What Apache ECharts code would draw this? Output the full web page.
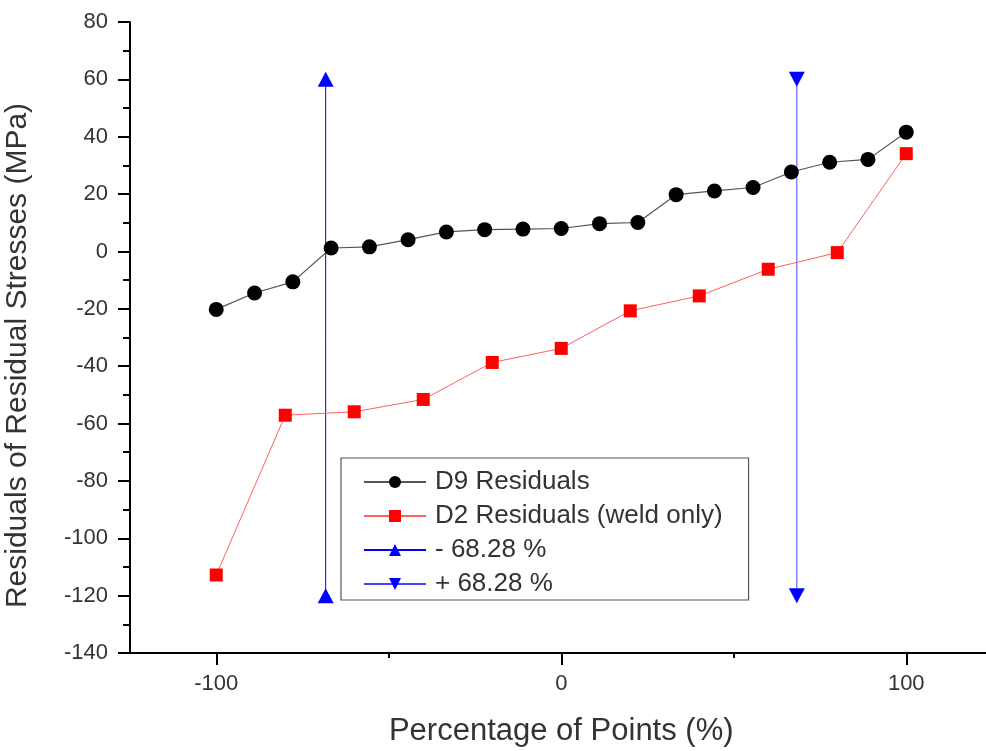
<!DOCTYPE html>
<html>
<head>
<meta charset="utf-8">
<script src="https://cdn.jsdelivr.net/npm/echarts@6/dist/echarts.min.js"></script>
<style>
html,body{margin:0;padding:0;background:#fff;}
#chart{width:986px;height:751px;}
</style>
</head>
<body>
<div id="chart"></div>
<script>
// D9 residuals
const d9X = [-100, -88.9, -77.8, -66.7, -55.6, -44.4, -33.3, -22.2, -11.1, 0, 11.1, 22.2, 33.3, 44.4, 55.6, 66.7, 77.8, 88.9, 100];
const d9Y = [-20.2, -14.5, -10.6, 1.2, 1.6, 4.1, 6.8, 7.6, 7.8, 8.0, 9.7, 10.1, 19.8, 21.1, 22.3, 27.7, 31.1, 32.1, 41.6];
// D2 residuals (weld only)
const d2X = [-100, -80, -60, -40, -20, 0, 20, 40, 60, 80, 100];
const d2Y = [-112.8, -57.1, -55.9, -51.6, -38.7, -33.8, -20.7, -15.5, -6.2, -0.4, 34.1];
// ±68.28 % bounds
const minusX = [-68.28, -68.28];
const minusY = [-120, 60];
const plusX = [68.28, 68.28];
const plusY = [60, -120];
// tick labels
const xMajorTicks = [-100, 0, 100];
const xMinorTicks = [-50, 50];

const seriesNames = ['D9 Residuals', 'D2 Residuals (weld only)', '- 68.28 %', '+ 68.28 %'];
const zip = (xs, ys) => xs.map((x, i) => [x, ys[i]]);

const font = 'Arial, "Liberation Sans", sans-serif';
const chart = echarts.init(document.getElementById('chart'));
chart.setOption({
  animation: false,
  backgroundColor: '#fff',
  grid: { left: 130, top: 22, width: 862.5, height: 631, containLabel: false, outerBoundsMode: 'none' },
  xAxis: [{
    type: 'value', min: -125, max: 125, position: 'bottom',
    name: 'Percentage of Points (%)', nameLocation: 'middle', nameGap: 63,
    nameTextStyle: { fontFamily: font, fontSize: 31, color: '#333' },
    axisLine: { show: true, onZero: false, lineStyle: { color: '#000', width: 2 } },
    axisTick: { show: true, inside: false, length: 12, customValues: xMajorTicks, lineStyle: { color: '#000', width: 2 } },
    axisLabel: { show: true, customValues: xMajorTicks, margin: 20, fontFamily: font, fontSize: 22, color: '#333' },
    splitLine: { show: false }
  }, {
    type: 'value', min: -125, max: 125, position: 'bottom', offset: 0,
    axisLine: { show: false, onZero: false },
    axisTick: { show: true, inside: false, length: 5, customValues: xMinorTicks, lineStyle: { color: '#000', width: 2 } },
    axisLabel: { show: false },
    splitLine: { show: false }
  }],
  yAxis: {
    type: 'value', min: -140, max: 80, interval: 20,
    name: 'Residuals of Residual Stresses (MPa)', nameLocation: 'middle', nameGap: 97,
    nameTextStyle: { fontFamily: font, fontSize: 30, color: '#333', padding: [0, 36, 0, 0] },
    axisLine: { show: true, onZero: false, lineStyle: { color: '#000', width: 2 } },
    axisTick: { show: true, inside: false, length: 12, lineStyle: { color: '#000', width: 2 } },
    minorTick: { show: true, splitNumber: 2, length: 7, lineStyle: { color: '#000', width: 2 } },
    axisLabel: { margin: 22, fontFamily: font, fontSize: 22, color: '#333' },
    splitLine: { show: false },
    minorSplitLine: { show: false }
  },
  legend: {
    orient: 'vertical', left: 341, top: 458,
    backgroundColor: '#fff',
    borderColor: '#555', borderWidth: 1.2, borderRadius: 0,
    padding: [11, 26, 3, 22],
    itemWidth: 62, itemHeight: 15, itemGap: 8,
    textStyle: { fontFamily: font, fontSize: 26, color: '#333', lineHeight: 26, padding: [0, 0, 0, 4] },
    data: seriesNames
  },
  series: [{
    name: seriesNames[0], type: 'line', xAxisIndex: 0,
    data: zip(d9X, d9Y),
    symbol: 'circle', symbolSize: 15,
    itemStyle: { color: '#000' },
    lineStyle: { color: '#555', width: 1.2 },
    z: 3
  }, {
    name: seriesNames[1], type: 'line', xAxisIndex: 0,
    data: zip(d2X, d2Y),
    symbol: 'rect', symbolSize: 13,
    itemStyle: { color: '#ff0000' },
    lineStyle: { color: '#ff6060', width: 1 },
    z: 3
  }, {
    name: seriesNames[2], type: 'line', xAxisIndex: 0,
    data: zip(minusX, minusY),
    symbol: 'triangle', symbolSize: [16, 15],
    itemStyle: { color: '#0000ff' },
    lineStyle: { color: '#0000ff', width: 1 },
    z: 2
  }, {
    name: seriesNames[3], type: 'line', xAxisIndex: 0,
    data: zip(plusX, plusY),
    symbol: 'triangle', symbolRotate: 180, symbolSize: [16, 15],
    itemStyle: { color: '#0000ff' },
    lineStyle: { color: '#4444ff', width: 1 },
    z: 2
  }]
});
</script>
</body>
</html>
